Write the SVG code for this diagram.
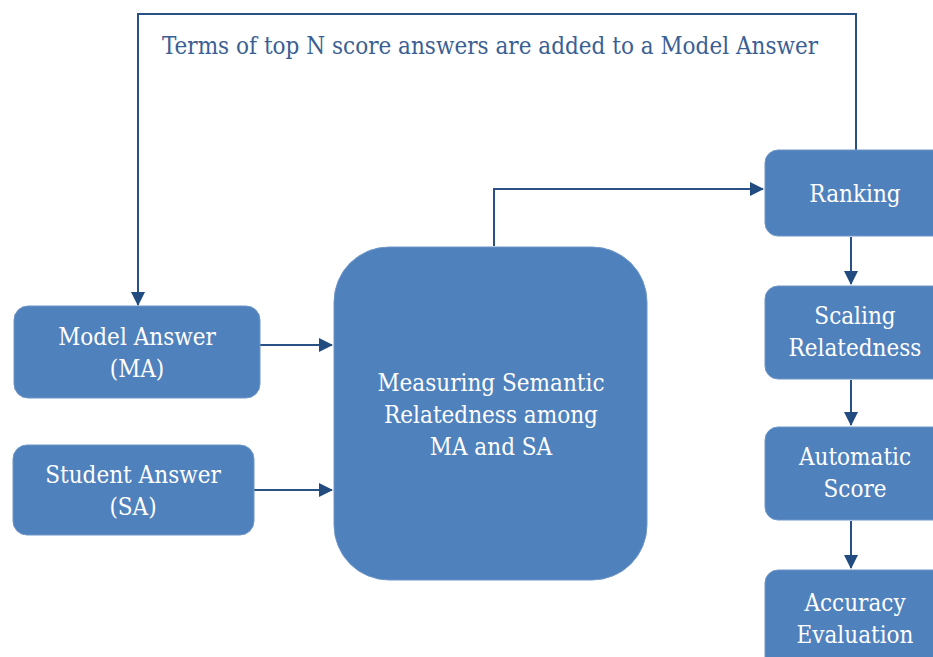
<svg xmlns="http://www.w3.org/2000/svg" width="933" height="657" viewBox="0 0 933 657">
<style>
.box{fill:#4F81BD;stroke:#6F97C8;stroke-width:1}
.t{font-family:"DejaVu Serif Condensed","DejaVu Serif",serif;font-stretch:condensed;font-size:24px;fill:#FFFFFF;text-anchor:middle}
.lbl{font-family:"DejaVu Serif Condensed","DejaVu Serif",serif;font-stretch:condensed;font-size:24px;fill:#3B5F93}
.c{fill:none;stroke:#2A5185;stroke-width:2}
</style>
<defs>
<marker id="ahl" markerWidth="14" markerHeight="14" refX="13" refY="7" orient="auto" markerUnits="userSpaceOnUse">
<path d="M0,0 L14,7 L0,14 Z" fill="#224B80"/>
</marker>
</defs>
<g id="connectors">
<path class="c" d="M856,150 L856,14 L138,14 L138,305" marker-end="url(#ahl)"/>
<path class="c" d="M494,246 L494,189 L763,189" marker-end="url(#ahl)"/>
<path class="c" d="M260,345 L332,345" marker-end="url(#ahl)"/>
<path class="c" d="M254,490 L332,490" marker-end="url(#ahl)"/>
<path class="c" d="M851,237 L851,284" marker-end="url(#ahl)"/>
<path class="c" d="M851,380 L851,425" marker-end="url(#ahl)"/>
<path class="c" d="M851,521 L851,568" marker-end="url(#ahl)"/>
</g>
<text class="lbl" x="162" y="54">Terms of top N score answers are added to a Model Answer</text>
<g id="model-answer">
<rect class="box" x="14" y="306" width="246" height="92" rx="14"/>
<text class="t" x="137" y="345">Model Answer</text>
<text class="t" x="137" y="377">(MA)</text>
</g>
<g id="student-answer">
<rect class="box" x="13" y="445" width="241" height="90" rx="14"/>
<text class="t" x="133" y="483">Student Answer</text>
<text class="t" x="133" y="515">(SA)</text>
</g>
<g id="measuring">
<rect class="box" x="334" y="247" width="313" height="333" rx="55"/>
<text class="t" x="491" y="391">Measuring Semantic</text>
<text class="t" x="491" y="423">Relatedness among</text>
<text class="t" x="491" y="455">MA and SA</text>
</g>
<g id="ranking">
<rect class="box" x="765" y="150" width="185" height="86" rx="13"/>
<text class="t" x="855" y="202">Ranking</text>
</g>
<g id="scaling">
<rect class="box" x="765" y="286" width="185" height="93" rx="13"/>
<text class="t" x="855" y="324">Scaling</text>
<text class="t" x="855" y="356">Relatedness</text>
</g>
<g id="automatic-score">
<rect class="box" x="765" y="427" width="185" height="93" rx="13"/>
<text class="t" x="855" y="465">Automatic</text>
<text class="t" x="855" y="497">Score</text>
</g>
<g id="accuracy">
<rect class="box" x="765" y="570" width="185" height="100" rx="13"/>
<text class="t" x="855" y="611">Accuracy</text>
<text class="t" x="855" y="643">Evaluation</text>
</g>
</svg>
